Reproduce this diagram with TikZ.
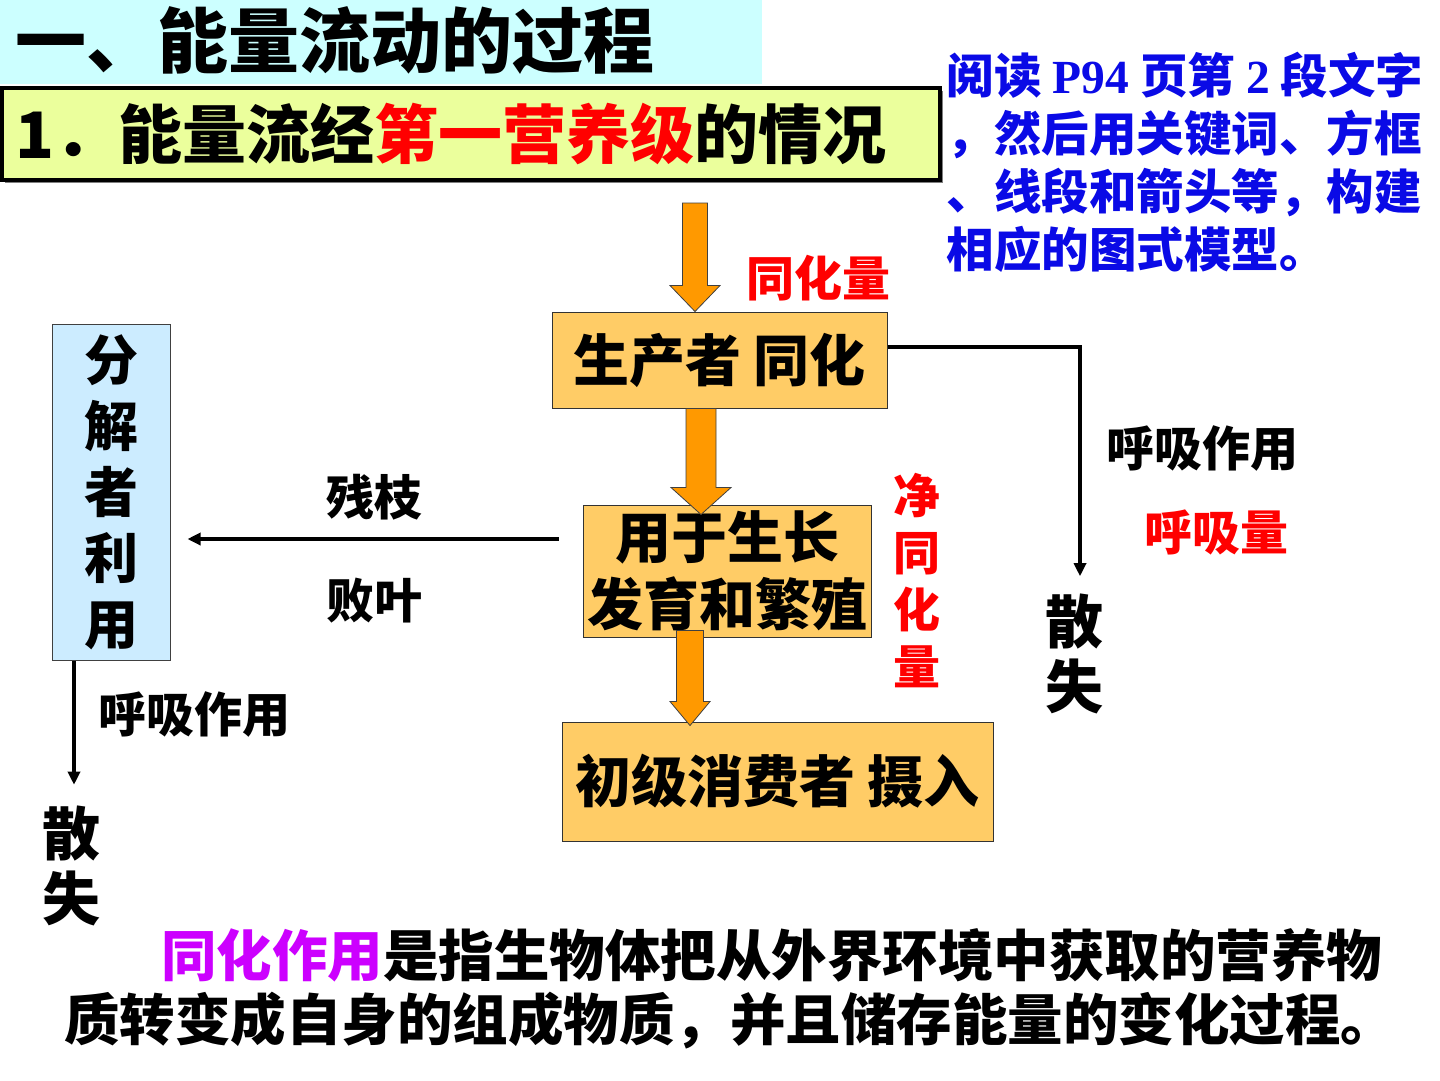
\documentclass[tikz,border=0pt]{standalone}
\usepackage{fontspec}
\setmainfont{Noto Sans CJK SC}
\newfontfamily\serifnum{Liberation Serif}
\usetikzlibrary{calc,shadows,arrows.meta}

\definecolor{titlecyan}{HTML}{CCFFFF}
\definecolor{bannergreen}{HTML}{EBFF9C}
\definecolor{boxorange}{HTML}{FFCC66}
\definecolor{flowamber}{HTML}{FF9900}
\definecolor{decompblue}{HTML}{CCECFF}
\definecolor{noteblue}{HTML}{0A0AE6}
\definecolor{keyred}{HTML}{FF0000}
\definecolor{keyviolet}{HTML}{CC00FF}

\newcommand\fz[2]{\fontsize{#1}{#2}\selectfont}
\newcommand\fatarrow[5]{%
  \filldraw[fat] ($(#1)+(-#3,0)$) -- ($(#2)+(-#3,-#5)$) -- ($(#2)+(-#4,-#5)$) -- (#2)
    -- ($(#2)+(#4,-#5)$) -- ($(#2)+(#3,-#5)$) -- ($(#1)+(#3,0)$) -- cycle;}

\begin{document}
\begin{tikzpicture}[x=1pt, y=-1pt,
    every node/.style={inner sep=0pt, font=\bfseries},
    titlebar/.style={fill=titlecyan, minimum width=762pt, minimum height=85pt,
      text width=730pt, align=left, font=\bfseries\fz{71}{80}},
    banner/.style={draw=black, line width=3.5pt, fill=bannergreen,
      minimum width=938pt, minimum height=92pt, text width=910pt, align=left,
      drop shadow={fill=black, shadow xshift=3pt, shadow yshift=-3pt},
      font=\bfseries\fz{64}{72}},
    note/.style={text=noteblue, align=left, font=\bfseries\fz{47.5}{58}},
    stage/.style={draw=black!80, line width=1pt, fill=boxorange, align=center,
      font=\bfseries\fz{56}{67}},
    decomp/.style={draw=black!75, line width=1pt, fill=decompblue, align=center,
      minimum width=118pt, minimum height=336pt, font=\bfseries\fz{54}{66}},
    lbl/.style={font=\bfseries\fz{48}{57}},
    qty/.style={lbl, text=keyred},
    lost/.style={align=center, font=\bfseries\fz{58}{65}},
    defn/.style={align=left, font=\bfseries\fz{55.5}{64}},
    fat/.style={fill=flowamber, draw=black!75, line width=0.8pt},
    line/.style={draw=black, line width=3.2pt, -{Triangle[length=13pt,width=12pt]}}]

  \path[fill=white, use as bounding box] (0,0) rectangle (1440,1080);

  \node[titlebar] (title) at (381,41) {一、能量流动的过程};
  \node[banner]   (step1) at (471,134)  {1．能量流经\textcolor{keyred}{第一营养级}的情况};
  \node[note]     (task)  at (1185,162) {阅读 {\serifnum P94} 页第 {\serifnum 2} 段文字\\，然后用关键词、方框\\、线段和箭头等，构建\\相应的图式模型。};

  \node[stage, minimum width=335pt, minimum height=96pt]  (prod) at (719.5,360) {生产者 同化};
  \node[stage, minimum width=288pt, minimum height=132pt] (grow) at (727,571)   {用于生长\\发育和繁殖};
  \node[stage, minimum width=431pt, minimum height=119pt] (cons) at (777.5,781.5) {初级消费者 摄入};
  \node[decomp] (dec) at (111,492) {分\\解\\者\\利\\用};

  \node[qty] (assim) at (818,278) {同化量};
  \node[qty, align=center, font=\bfseries\fz{47}{57}] (net) at (917,581) {净\\同\\化\\量};
  \node[lbl]  (resp1) at (1202,448) {呼吸作用};
  \node[qty]  (respq) at (1216,532) {呼吸量};
  \node[lost] (lost1) at (1074,653.5) {散\\失};
  \node[lbl]  (twig)  at (374,497) {残枝};
  \node[lbl]  (leaf)  at (374,601) {败叶};
  \node[lbl]  (resp2) at (194,714) {呼吸作用};
  \node[lost] (lost2) at (71,866) {散\\失};
  \node[defn, anchor=west] (defn) at (64,989) {\hspace*{97pt}\textcolor{keyviolet}{同化作用}是指生物体把从外界环境中获取的营养物\\质转变成自身的组成物质，并且储存能量的变化过程。};

  \coordinate (in)  at (695,203);
  \coordinate (inend) at (in |- prod.north);
  \coordinate (g1)  at ([xshift=-18.5pt]prod.south);
  \coordinate (g2)  at ([yshift=-10pt]g1 |- grow.north);
  \coordinate (c1)  at ([xshift=-37pt,yshift=7pt]grow.south);
  \coordinate (c2)  at ([yshift=-4pt]c1 |- cons.north);

  \fatarrow{in}{inend}{12.5}{25}{26}
  \fatarrow{g1}{g2}{15}{30}{27}
  \fatarrow{c1}{c2}{13.5}{20}{24}

  \draw[line, shorten >=17pt] ([yshift=13pt]prod.east) -| ([xshift=6pt]lost1.north);
  \draw[line, shorten <=24pt, shorten >=17pt] ([yshift=32pt]grow.west) -- ([yshift=32pt]grow.west -| dec.east);
  \draw[line, shorten >=21pt] ([xshift=-37pt]dec.south) -- ([xshift=-37pt]dec.south |- lost2.north);
\end{tikzpicture}
\end{document}
